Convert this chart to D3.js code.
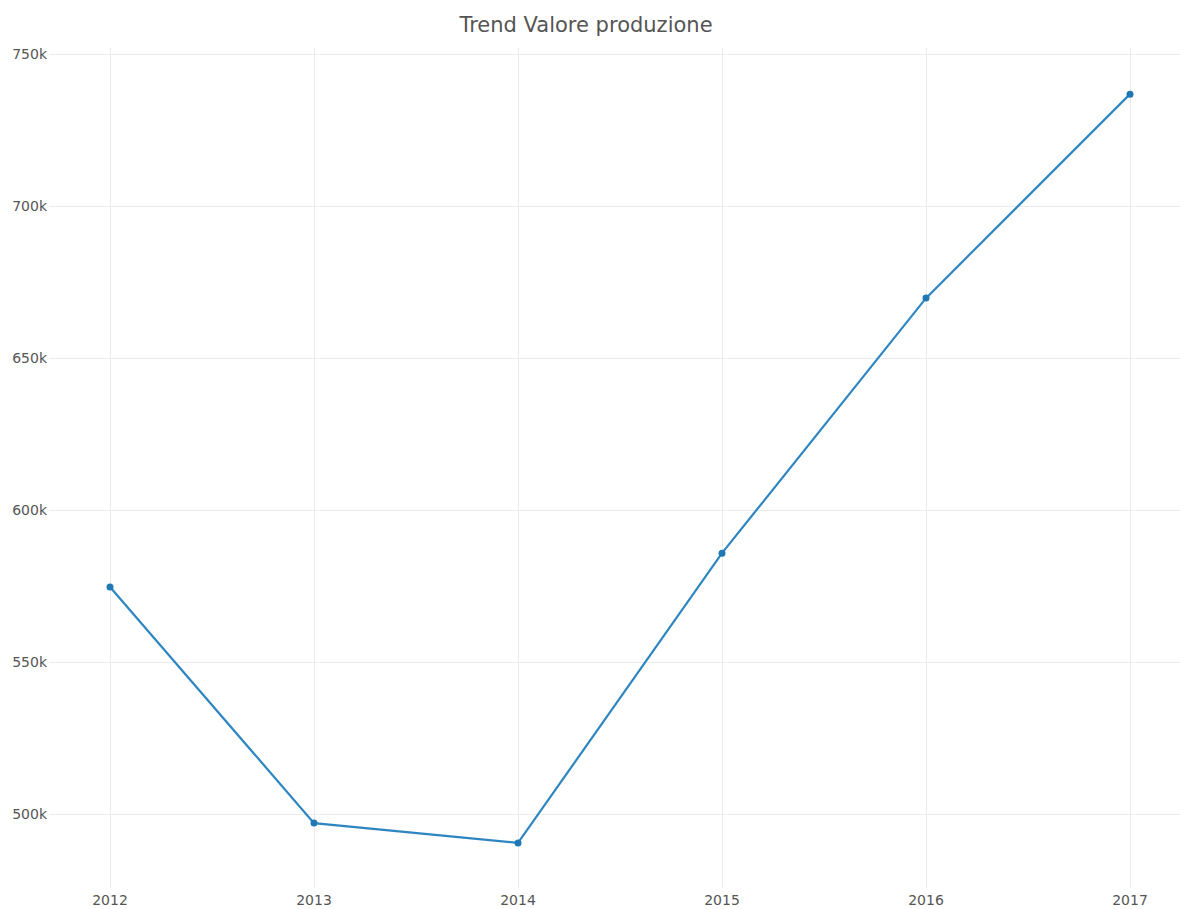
<!DOCTYPE html>
<html>
<head>
<meta charset="utf-8">
<script src="https://cdn.jsdelivr.net/npm/d3@7"></script>
<style>
  body { margin: 0; background: #fff; }
  svg { font-family: "DejaVu Sans", sans-serif; }
</style>
</head>
<body>
<div id="chart"></div>
<script>
var width  = 1180;
var height = 909;

var years  = [2012, 2013, 2014, 2015, 2016, 2017];
var values = [574700, 497000, 490500, 585800, 669700, 736800];
var yTicks = [500000, 550000, 600000, 650000, 700000, 750000];

var plot = { left: 49, right: 1180, top: 48, bottom: 888 };

var svg = d3.select('#chart')
  .append('svg')
  .attr('width', width)
  .attr('height', height);

var x = d3.scaleLinear()
  .domain([2012, 2017])
  .range([110, 1130]);

var y = d3.scaleLinear()
  .domain([475658, 751974])
  .range([plot.bottom, plot.top]);

// grid
svg.append('g')
  .selectAll('line')
  .data(yTicks)
  .enter()
  .append('line')
  .attr('x1', plot.left)
  .attr('x2', plot.right)
  .attr('y1', function(d) { return Math.round(y(d)) + 0.5; })
  .attr('y2', function(d) { return Math.round(y(d)) + 0.5; })
  .style('stroke', '#ebebeb');

svg.append('g')
  .selectAll('line')
  .data(years)
  .enter()
  .append('line')
  .attr('x1', function(d) { return Math.round(x(d)) + 0.5; })
  .attr('x2', function(d) { return Math.round(x(d)) + 0.5; })
  .attr('y1', plot.top)
  .attr('y2', plot.bottom)
  .style('stroke', '#ebebeb');

// y labels
svg.append('g')
  .selectAll('text')
  .data(yTicks)
  .enter()
  .append('text')
  .attr('x', 47)
  .attr('y', function(d) { return y(d); })
  .attr('dy', '.35em')
  .attr('text-anchor', 'end')
  .style('font-size', '14px')
  .style('fill', '#555')
  .text(function(d) { return (d / 1000) + 'k'; });

// x labels
svg.append('g')
  .selectAll('text')
  .data(years)
  .enter()
  .append('text')
  .attr('x', function(d) { return x(d); })
  .attr('y', 905)
  .attr('text-anchor', 'middle')
  .style('font-size', '14px')
  .style('fill', '#555')
  .text(function(d) { return d; });

// title
svg.append('text')
  .attr('x', 586)
  .attr('y', 32)
  .attr('text-anchor', 'middle')
  .style('font-size', '21px')
  .style('fill', '#555')
  .text('Trend Valore produzione');

var line = d3.line()
  .x(function(d, i) { return x(years[i]); })
  .y(function(d) { return y(d); });

svg.append('path')
  .datum(values)
  .attr('d', line)
  .style('fill', 'none')
  .style('stroke', '#2e86c1')
  .style('stroke-width', 2.2);

svg.append('g')
  .selectAll('circle')
  .data(values)
  .enter()
  .append('circle')
  .attr('cx', function(d, i) { return x(years[i]); })
  .attr('cy', function(d) { return y(d); })
  .attr('r', 3.5)
  .style('fill', '#1f77b4');
</script>
</body>
</html>
